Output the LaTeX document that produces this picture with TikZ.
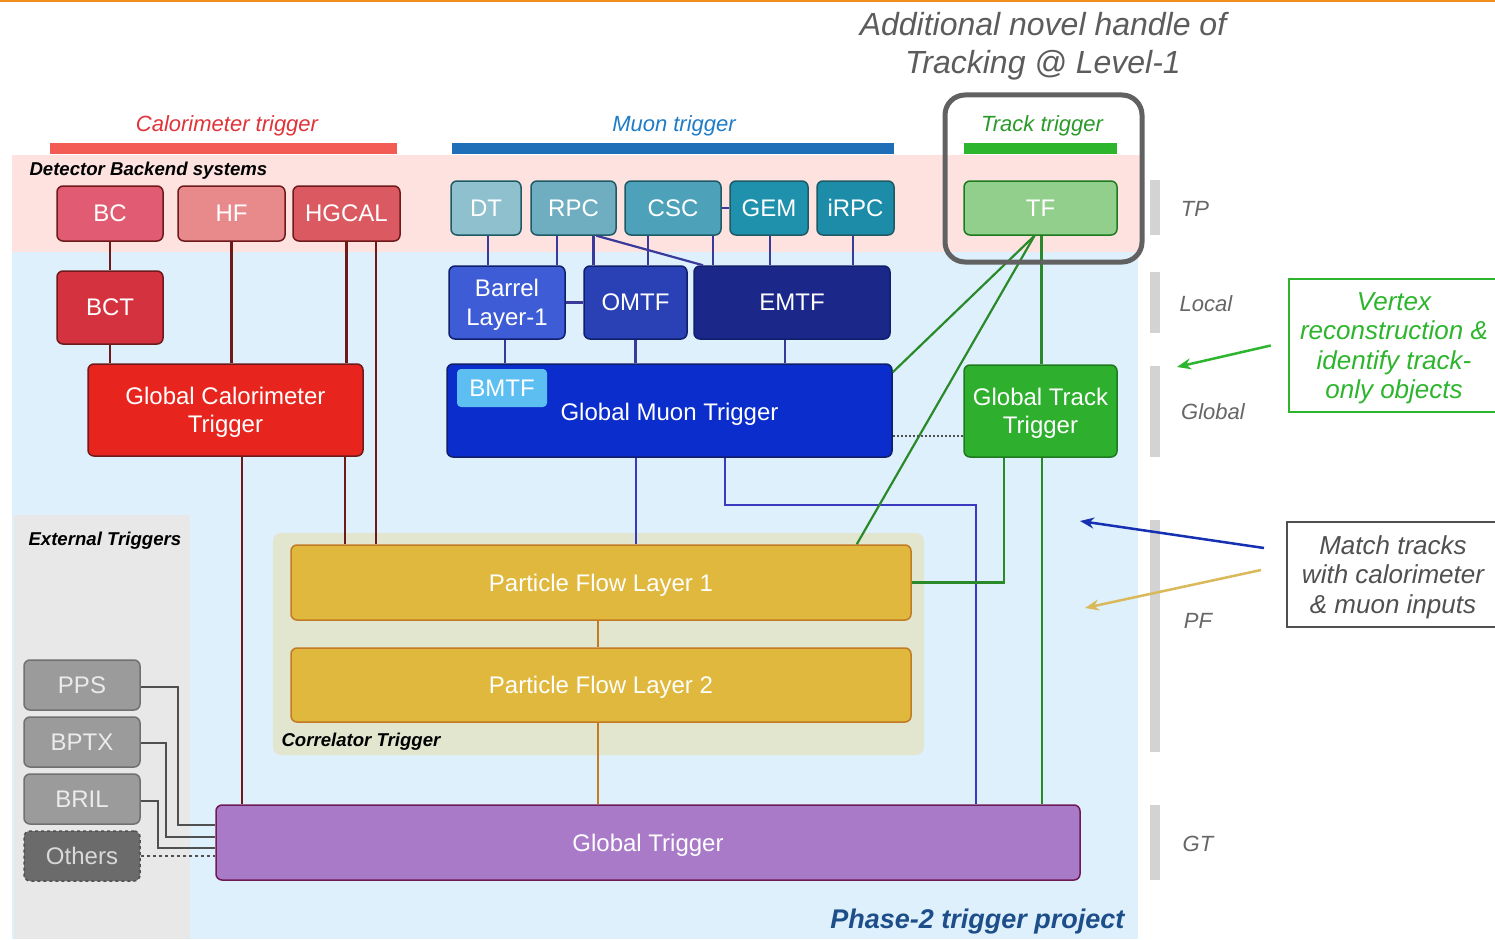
\documentclass[tikz,border=0pt]{standalone}
\usepackage{fontspec}
\setmainfont{Liberation Sans}
\usetikzlibrary{arrows.meta,calc}
\definecolor{pinkbg}{HTML}{FDE2E0}
\definecolor{bluebg}{HTML}{DEF0FC}
\definecolor{extbg}{HTML}{E8E8E8}
\definecolor{corrbg}{HTML}{E3E6CF}
\definecolor{topline}{HTML}{F0901A}
\definecolor{cBC}{HTML}{E15C73}
\definecolor{cHF}{HTML}{E8898B}
\definecolor{cHG}{HTML}{DB5A62}
\definecolor{cBCT}{HTML}{D5323F}
\definecolor{cGCT}{HTML}{E8241E}
\definecolor{calb}{HTML}{6E1A1A}
\definecolor{cDT}{HTML}{8EC0CE}
\definecolor{cRPC}{HTML}{6FAEC0}
\definecolor{cCSC}{HTML}{4DA2BA}
\definecolor{cGEM}{HTML}{1F91AD}
\definecolor{ciRPC}{HTML}{1C8CA9}
\definecolor{mub}{HTML}{1E5A66}
\definecolor{cBar}{HTML}{3D5CD6}
\definecolor{cOM}{HTML}{2A40B5}
\definecolor{cEM}{HTML}{1B288A}
\definecolor{cGMT}{HTML}{0B2DCB}
\definecolor{cBM}{HTML}{5DBEF2}
\definecolor{mtb}{HTML}{0F1F6A}
\definecolor{mline}{HTML}{3A3A9A}
\definecolor{mline2}{HTML}{3A3AC0}
\definecolor{cTF}{HTML}{93CF8C}
\definecolor{cGTT}{HTML}{2EAF2E}
\definecolor{trb}{HTML}{1E7A1E}
\definecolor{tline}{HTML}{2A8A2A}
\definecolor{cPF}{HTML}{DFB83D}
\definecolor{pfb}{HTML}{C27A25}
\definecolor{cGT}{HTML}{A97AC8}
\definecolor{gtb}{HTML}{6E1A55}
\definecolor{cExt}{HTML}{9B9B9B}
\definecolor{extb}{HTML}{707070}
\definecolor{cOth}{HTML}{6B6B6B}
\definecolor{exline}{HTML}{505050}
\definecolor{calT}{HTML}{E0343A}
\definecolor{calbar}{HTML}{F25C54}
\definecolor{muT}{HTML}{1E7CC8}
\definecolor{mubar}{HTML}{1F6FB8}
\definecolor{trT}{HTML}{2A9A2A}
\definecolor{trbar}{HTML}{2DB52D}
\definecolor{lvl}{HTML}{666666}
\definecolor{lvlbar}{HTML}{D3D3D3}
\definecolor{phase}{HTML}{1D4E89}
\definecolor{gold}{HTML}{D9B95A}
\definecolor{arrblue}{HTML}{1530B0}
\begin{document}
\begin{tikzpicture}[x=1pt,y=-1pt,
  box/.style={draw,line width=1.5pt,rounded corners=6pt,inner sep=0pt,text=white,align=center,
    text depth=0pt,font=\fontsize{24}{28.5}\selectfont},
  cal/.style={box,draw=calb},
  mu/.style={box,draw=mub},
  mt/.style={box,draw=mtb},
  tr/.style={box,draw=trb},
  pf/.style={box,draw=pfb,fill=cPF},
  ext/.style={box,draw=extb,fill=cExt,text=white!92!black,minimum width=116pt,minimum height=50pt},
  catlabel/.style={font=\fontsize{22}{26}\selectfont\itshape,text depth=0pt},
  secl/.style={font=\fontsize{18.6}{22}\selectfont\bfseries\itshape,anchor=west},
  lvllabel/.style={font=\fontsize{22}{26}\selectfont\itshape,text=lvl},
  calline/.style={draw=calb,line width=2.2pt},
  muline/.style={draw=mline,line width=2.2pt},
  trline/.style={draw=tline,line width=2.2pt},
  exl/.style={draw=exline,line width=2.2pt},
  note/.style={font=\fontsize{26}{29.4}\selectfont\itshape,align=center,inner sep=0pt,text depth=0pt}
]
\useasboundingbox (0,0) rectangle (1495,939);
% backgrounds
\fill[white] (0,0) rectangle (1495,939);
\fill[topline] (0,0) rectangle (1495,2.5);
\fill[pinkbg] (12,155) rectangle (1140,252);
\fill[bluebg] (12,252) rectangle (1138,939);
\fill[extbg] (14,515) rectangle (190,939);
\fill[corrbg,rounded corners=8pt] (273,533) rectangle (924,755);
% category labels and bars
\node[catlabel,text=calT] (calL) at (227,124) {Calorimeter trigger};
\node[catlabel,text=muT] (muL) at (674,124) {Muon trigger};
\node[catlabel,text=trT] (trL) at (1042,124) {Track trigger};
\fill[calbar] (50,143) rectangle (397,154);
\fill[mubar] (452,143) rectangle (894,154);
\fill[trbar] (964,143) rectangle (1117,154);
\node[secl] (detL) at (26,171) {Detector Backend systems};
\node[secl] (extL) at (25,541) {External Triggers};
\node[secl] (corrL) at (278,742) {Correlator Trigger};
% title
\node[font=\fontsize{32}{38}\selectfont\itshape,text=lvl!90!black,align=center,text depth=0pt] (title) at (1043,43) {Additional novel handle of\\Tracking @ Level-1};
% level bars
\fill[lvlbar] (1150,180) rectangle (1160,235);
\fill[lvlbar] (1150,272) rectangle (1160,333);
\fill[lvlbar] (1150,366) rectangle (1160,457);
\fill[lvlbar] (1150,520) rectangle (1160,752);
\fill[lvlbar] (1150,805) rectangle (1160,880);
\node[lvllabel] (tpL) at (1195,209) {TP};
\node[lvllabel] (locL) at (1206,304) {Local};
\node[lvllabel] (gloL) at (1213,412) {Global};
\node[lvllabel] (pfL) at (1198,621) {PF};
\node[lvllabel] (gtL) at (1198,844) {GT};
% calorimeter nodes
\node[cal,fill=cBC,minimum width=106pt,minimum height=55pt] (BC) at (110,213.5) {BC};
\node[cal,fill=cHF,minimum width=107pt,minimum height=55pt] (HF) at (231.5,213.5) {HF};
\node[cal,fill=cHG,minimum width=107pt,minimum height=55pt] (HGCAL) at (346.5,213.5) {HGCAL};
\node[cal,fill=cBCT,minimum width=106pt,minimum height=73pt] (BCT) at (110,307.5) {BCT};
\node[cal,fill=cGCT,minimum width=275pt,minimum height=92pt] (GCT) at (225.5,410) {Global Calorimeter\\Trigger};
% muon nodes
\node[mu,fill=cDT,minimum width=70pt,minimum height=54pt] (DT) at (486,208) {DT};
\node[mu,fill=cRPC,minimum width=85pt,minimum height=54pt] (RPC) at (573.5,208) {RPC};
\node[mu,fill=cCSC,minimum width=96pt,minimum height=54pt] (CSC) at (673,208) {CSC};
\node[mu,fill=cGEM,minimum width=78pt,minimum height=54pt] (GEM) at (769,208) {GEM};
\node[mu,fill=ciRPC,minimum width=77pt,minimum height=54pt] (iRPC) at (855.5,208) {iRPC};
\node[mt,fill=cBar,minimum width=116pt,minimum height=73pt] (Barrel) at (507,302.5) {Barrel\\Layer-1};
\node[mt,fill=cOM,minimum width=103pt,minimum height=73pt] (OMTF) at (635.5,302.5) {OMTF};
\node[mt,fill=cEM,minimum width=196pt,minimum height=73pt] (EMTF) at (792,302.5) {EMTF};
\node[mt,fill=cGMT,minimum width=445pt,minimum height=93pt] (GMT) at (669.5,410.5) {\raisebox{-2pt}{Global Muon Trigger}};
\node[box,draw=none,fill=cBM,rounded corners=4pt,minimum width=90pt,minimum height=38pt] (BMTF) at (502,388) {BMTF};
% track nodes
\node[tr,fill=cTF,minimum width=153pt,minimum height=54pt] (TF) at (1040.5,208) {TF};
\node[tr,fill=cGTT,minimum width=153pt,minimum height=92pt] (GTT) at (1040.5,411) {Global Track\\Trigger};
% PF and GT
\node[pf,minimum width=620pt,minimum height=75pt] (PF1) at (601,582.5) {Particle Flow Layer 1};
\node[pf,minimum width=620pt,minimum height=74pt] (PF2) at (601,685) {Particle Flow Layer 2};
\node[box,draw=gtb,fill=cGT,minimum width=864pt,minimum height=75pt] (GT) at (648,842.5) {Global Trigger};
% external
\node[ext] (PPS) at (82,685) {PPS};
\node[ext] (BPTX) at (82,742) {BPTX};
\node[ext] (BRIL) at (82,799) {BRIL};
\node[ext,fill=cOth,draw=exline,dashed,text=white!85!black] (Others) at (82,856) {Others};
% calorimeter lines
\path[calline] (BC.south) -- (BCT.north);
\path[calline] (BCT.south) -- (BCT.south |- GCT.north);
\path[calline] (HF.south) -- (HF.south |- GCT.north);
\path[calline] (HGCAL.south) -- (HGCAL.south |- GCT.north);
\path[calline] ([xshift=29.5pt]HGCAL.south) -- ([xshift=29.5pt]HGCAL.south |- PF1.north);
\path[calline] ([xshift=16.5pt]GCT.south) -- ([xshift=16.5pt]GCT.south |- GT.north);
\path[calline] ([xshift=119.5pt]GCT.south) -- ([xshift=119.5pt]GCT.south |- PF1.north);
% muon lines
\path[muline] ([xshift=2pt]DT.south) -- ([xshift=2pt]DT.south |- Barrel.north);
\path[muline] ([xshift=-16.5pt]RPC.south) -- ([xshift=-16.5pt]RPC.south |- Barrel.north);
\path[muline] ([xshift=20pt]RPC.south) -- ([xshift=20pt]RPC.south |- OMTF.north);
\path[muline] ([xshift=23pt]RPC.south) -- ([xshift=-89pt]EMTF.north);
\path[muline] ([xshift=-25pt]CSC.south) -- ([xshift=-25pt]CSC.south |- OMTF.north);
\path[muline] ([xshift=40pt]CSC.south) -- ([xshift=40pt]CSC.south |- EMTF.north);
\path[muline] (CSC.east) -- (GEM.west);
\path[muline] ([xshift=1pt]GEM.south) -- ([xshift=1pt]GEM.south |- EMTF.north);
\path[muline] ([xshift=-2.5pt]iRPC.south) -- ([xshift=-2.5pt]iRPC.south |- EMTF.north);
\path[muline] (Barrel.east) -- (OMTF.west);
\path[muline] ([xshift=-2pt]Barrel.south) -- ([xshift=-2pt]Barrel.south |- GMT.north);
\path[muline] (OMTF.south) -- (OMTF.south |- GMT.north);
\path[muline] ([xshift=-7pt]EMTF.south) -- ([xshift=-7pt]EMTF.south |- GMT.north);
\path[muline,draw=mline2] ([xshift=-33.5pt]GMT.south) -- ([xshift=-33.5pt]GMT.south |- PF1.north);
\path[muline,draw=mline2] ([xshift=55.5pt]GMT.south) -- ++(0,47) -| ([xshift=328pt]GT.north);
% track lines
\path[trline] ([xshift=-6pt]TF.south) -- ([yshift=-9pt]GMT.north east);
\path[trline] ([xshift=-6pt]TF.south) -- ([xshift=-55pt]PF1.north east);
\path[trline] ([xshift=1pt]TF.south) -- ([xshift=1pt]TF.south |- GTT.north);
\path[trline] ([xshift=-36.5pt]GTT.south) |- (PF1.east);
\path[trline] ([xshift=1.5pt]GTT.south) -- ([xshift=1.5pt]GTT.south |- GT.north);
\draw[exline,line width=2pt,dotted] ([yshift=-25.5pt]GMT.east) -- ([yshift=-25.5pt]GMT.east -| GTT.west);
% PF lines
\draw[pfb,line width=2.2pt] ([xshift=-3pt]PF1.south) -- ([xshift=-3pt]PF1.south |- PF2.north);
\draw[pfb,line width=2.2pt] ([xshift=-3pt]PF2.south) -- ([xshift=-3pt]PF2.south |- GT.north);
% external lines
\path[exl] ([yshift=-2pt]PPS.east) -- ++(37,0) |- ([yshift=17.5pt]GT.west);
\path[exl] ([yshift=-1pt]BPTX.east) -- ++(25,0) |- ([yshift=5.5pt]GT.west);
\path[exl] ([yshift=-2pt]BRIL.east) -- ++(17,0) |- ([yshift=-5.5pt]GT.west);
\draw[exline,line width=2.2pt,dashed] (Others.east) -- (Others.east -| GT.west);
% track trigger highlight
\node[draw=exline!90!white,line width=5pt,rounded corners=20pt,minimum width=197pt,minimum height=167pt,inner sep=0pt] (HL) at (1043.5,178.5) {};
% notes
\node[note,text=trbar,draw=trbar,line width=2.5pt,minimum width=210pt,minimum height=133pt] (VTX) at (1394,345.5) {Vertex\\reconstruction \&\\identify track-\\only objects};
\node[note,text=exline,draw=exline,line width=2pt,minimum width=212pt,minimum height=105pt] (MATCH) at (1393,574.5) {Match tracks\\with calorimeter\\\& muon inputs};
\coordinate (va) at (1177,367);
\coordinate (mb) at (1080,521);
\coordinate (mg) at (1085,608);
\draw[trbar,line width=2.5pt,-{Stealth[length=14pt,width=11pt]}] ([xshift=-17pt]VTX.west) -- (va);
\draw[arrblue,line width=2.5pt,-{Stealth[length=14pt,width=11pt]}] ([shift={(-22pt,26.5pt)}]MATCH.west) -- (mb);
\draw[gold,line width=2.5pt,-{Stealth[length=14pt,width=11pt]}] ([shift={(-25pt,4.5pt)}]MATCH.west) -- (mg);
\node[font=\fontsize{27}{32}\selectfont\bfseries\itshape,text=phase,anchor=east,text depth=0pt] (ph) at (1128,919) {Phase-2 trigger project};
\end{tikzpicture}
\end{document}
